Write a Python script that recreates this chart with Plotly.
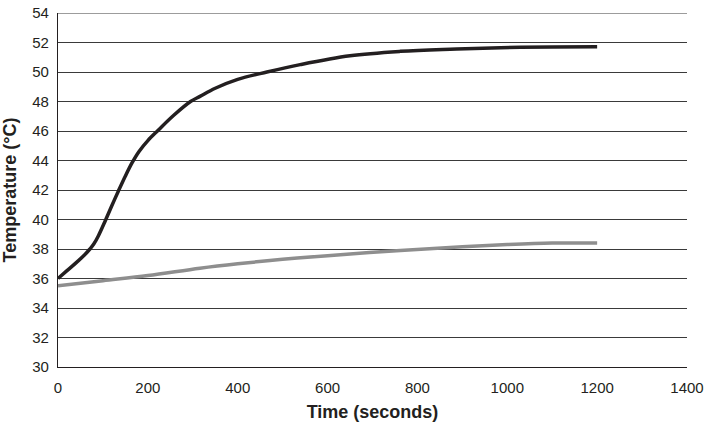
import plotly.graph_objects as go

black_x = [0, 20, 40, 60, 71, 80, 90, 105, 120, 134, 150, 165, 180, 200, 223, 257, 295, 316, 350, 400, 465, 539, 650, 762, 873, 985, 1100, 1200]
black_y = [36.0, 36.53, 37.06, 37.63, 38.0, 38.35, 38.9, 39.9, 40.95, 41.9, 42.95, 43.85, 44.6, 45.35, 46.05, 47.05, 48.0, 48.35, 48.9, 49.5, 50.0, 50.5, 51.1, 51.4, 51.55, 51.65, 51.7, 51.72]

gray_x = [0, 100, 200, 316, 400, 500, 600, 762, 900, 1000, 1100, 1200]
gray_y = [35.5, 35.85, 36.2, 36.7, 37.0, 37.3, 37.55, 37.9, 38.15, 38.3, 38.4, 38.4]

x_ticks = [0, 200, 400, 600, 800, 1000, 1200, 1400]
y_ticks = [30, 32, 34, 36, 38, 40, 42, 44, 46, 48, 50, 52, 54]

grid_color = "#3a3a3a"

fig = go.Figure()
fig.add_trace(go.Scatter(x=gray_x, y=gray_y, mode="lines",
                         line=dict(color="#8e8e8e", width=3.5, shape="spline", smoothing=1),
                         showlegend=False))
fig.add_trace(go.Scatter(x=black_x, y=black_y, mode="lines",
                         line=dict(color="#231f20", width=3.5, shape="spline", smoothing=1),
                         showlegend=False))

# top gridline at the upper end of the y range
fig.add_hline(y=y_ticks[-1], line=dict(color=grid_color, width=1), layer="below")

font = dict(family="Liberation Sans, Arial, sans-serif", size=15, color="#231f20")
fig.update_layout(
    width=714, height=431,
    margin=dict(l=58, r=27, t=13, b=64),
    paper_bgcolor="white", plot_bgcolor="white",
    font=font,
    xaxis=dict(range=[0, 1400], tickvals=x_ticks, showgrid=False, zeroline=False,
               showline=True, linecolor="#231f20", linewidth=1.2, automargin=False,
               title=dict(text="<b>Time (seconds)</b>", font=dict(size=18), standoff=10),
               ticks="", ticklabelstandoff=7, ticklabeloverflow="allow"),
    yaxis=dict(range=[30, 54], tickvals=y_ticks, showgrid=True, gridcolor=grid_color,
               gridwidth=1, zeroline=False, showline=True, linecolor="#231f20",
               linewidth=1.2, ticks="", ticklabelstandoff=5, automargin=False,
               ticklabeloverflow="allow",
               title=dict(text="<b>Temperature (°C)</b>", font=dict(size=18), standoff=12)),
)
fig.write_html("out.html", config={"displayModeBar": False},
               post_script="document.body.style.margin='0';")
